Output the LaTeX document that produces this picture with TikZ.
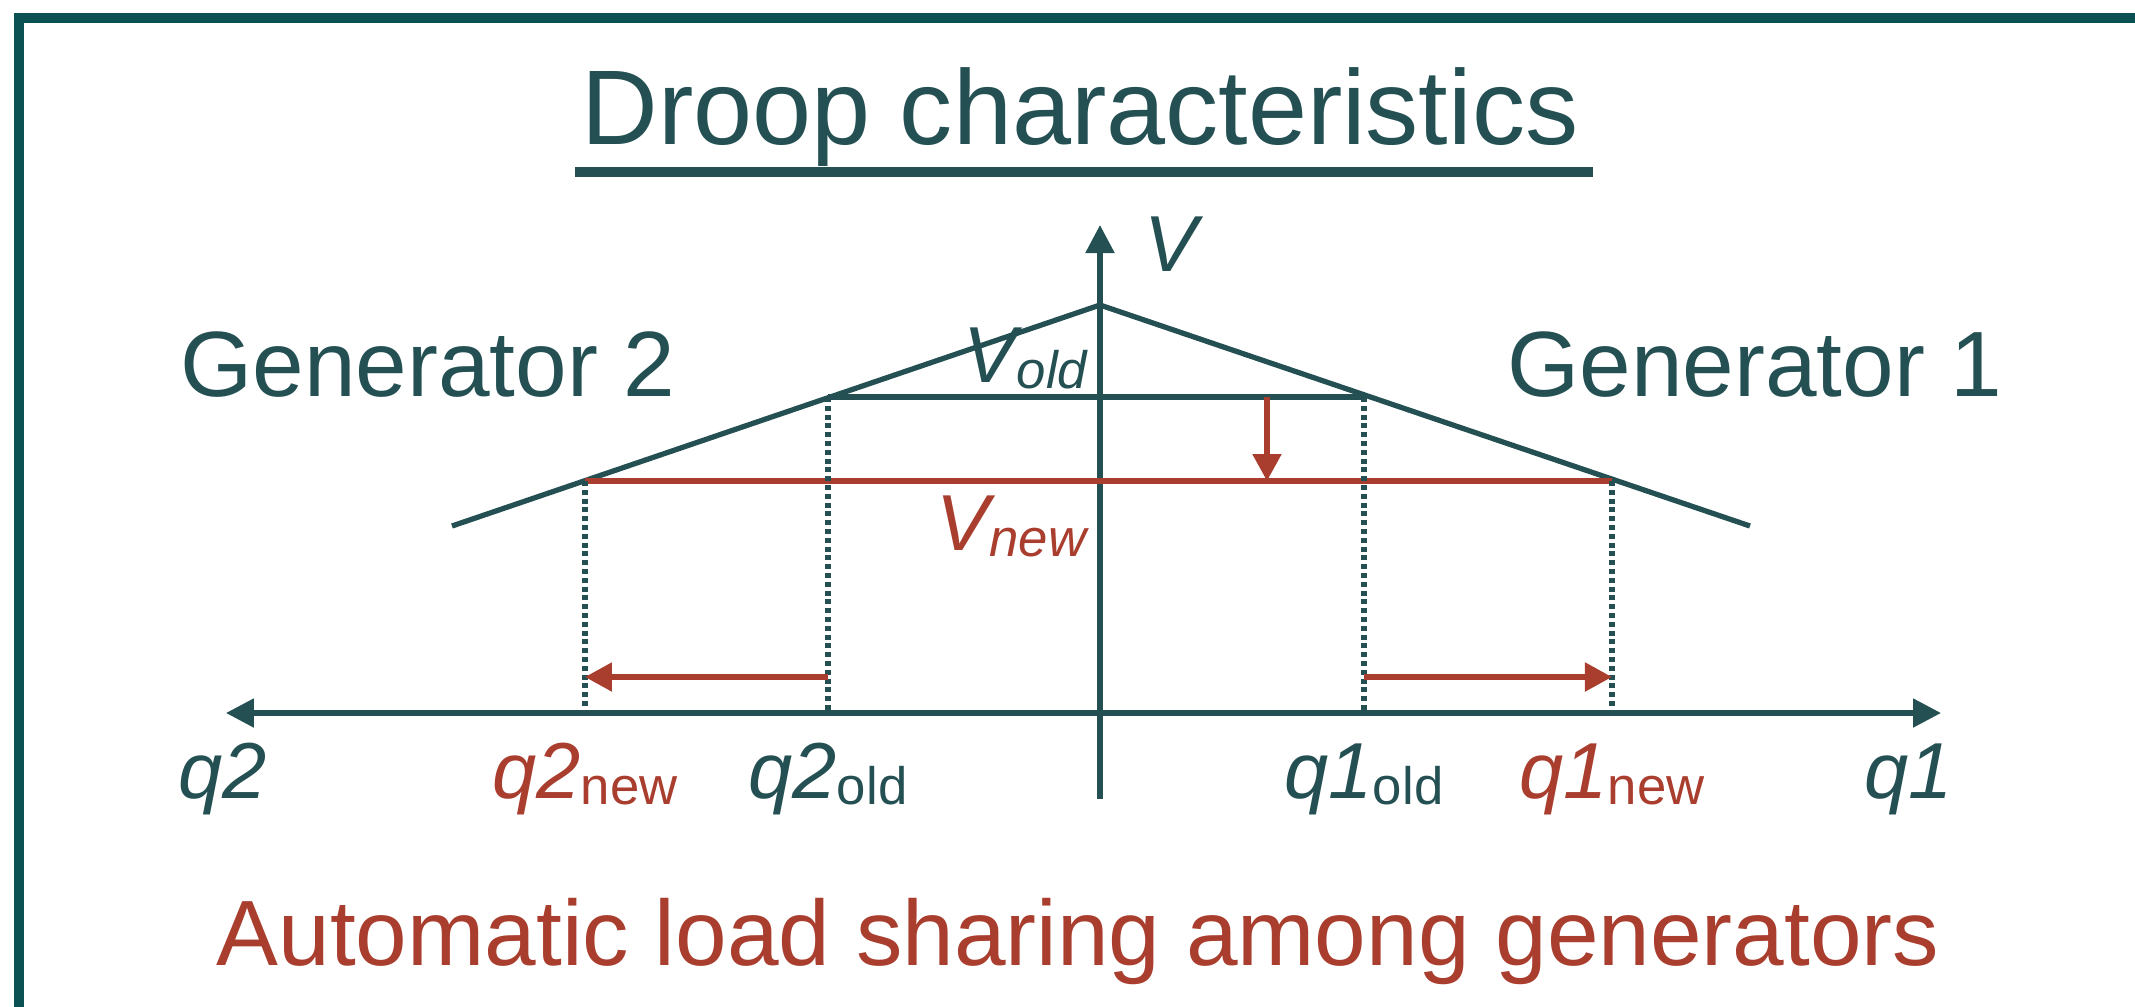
\documentclass[tikz,border=0pt]{standalone}
\usepackage{fontspec}
\setmainfont{Liberation Sans}
\usepackage{tikz}
\usepackage{xcolor}
\usetikzlibrary{arrows.meta, positioning, calc}
\definecolor{cTeal}{RGB}{36,80,83}
\definecolor{cFrame}{RGB}{11,80,83}
\definecolor{cRed}{RGB}{169,61,46}
\tikzset{
	frame/.style    ={line width=1.05mm, cFrame},
	axisline/.style ={line width=1.5pt, cTeal},
	axisarrow/.style={-{Triangle[length=2.8mm, width=2.8mm]}, axisline},
	droop/.style    ={line width=1.5pt, cTeal},
	guide/.style    ={line width=1.5pt, cTeal, dash pattern=on 0.5mm off 0.38mm},
	movearrow/.style={-{Triangle[length=2.7mm, width=2.8mm]}, line width=1.5pt, cRed},
	% text styles
	lbl/.style      ={inner sep=0pt, anchor=base, font=\fontsize{22.6}{24}\selectfont\itshape},
	big/.style      ={inner sep=0pt, anchor=base, font=\fontsize{26.4}{28}\selectfont},
}
\newcommand{\lsub}[1]{{\fontsize{15}{15}\selectfont\raisebox{-0.6mm}{#1}}}

\begin{document}
\begin{tikzpicture}[color=cTeal]
	\useasboundingbox (-11.00,-2.93) rectangle (10.35,7.13);
	% slide frame
	\draw[frame] (-10.81,-3.3) -- (-10.81,6.95) -- (10.8,6.95);
	% title
	\node[anchor=base, inner sep=0pt, font=\fontsize{30.2}{32}\selectfont] (title) at (-0.20,5.69) {Droop characteristics};
	\coordinate (ulL) at (-5.25,5.41);
	\coordinate (ulR) at (4.93,5.41);
	\draw[line width=1mm, cTeal] (ulL) -- (ulR);
	% axes
	\coordinate (O) at (0,0);
	\coordinate (vtop) at (0,4.88);
	\coordinate (vbot) at (0,-0.86);
	\coordinate (qL) at (-8.74,0);
	\coordinate (qR) at (8.41,0);
	\draw[axisarrow] (vbot) -- (vtop);
	\draw[axisline, {Triangle[length=2.8mm, width=2.8mm]}-{Triangle[length=2.8mm, width=2.8mm]}] (qL) -- (qR);
	% droop lines
	\coordinate (peak) at (0,4.08);
	\coordinate (g2) at (-6.48,1.87);
	\coordinate (g1) at (6.50,1.87);
	\draw[droop] (g2) -- (peak) -- (g1);
	% operating points
	\coordinate (old2) at (-2.72,3.16);
	\coordinate (old1) at (2.64,3.16);
	\coordinate (new2) at (-5.15,2.32);
	\coordinate (new1) at (5.12,2.32);
	\draw[droop] (old2) -- (old1);
	\draw[line width=1.5pt, cRed] (new2) -- (new1);
	\foreach \p in {old2,old1,new2,new1}
		\draw[guide] (\p) -- (\p |- O);
	% voltage drop and load shift
	\coordinate (drop) at (1.67,0);
	\draw[movearrow] (drop |- old1) -- (drop |- new1);
	\coordinate (arr) at (0,0.36);
	\draw[movearrow] (old2 |- arr) -- (new2 |- arr);
	\draw[movearrow] (old1 |- arr) -- (new1 |- arr);
	% labels
	\node[lbl] (vlab) at (0.71,4.42) {V};
	\node[lbl, anchor=base east] (vold) at (-0.12,3.31) {V\lsub{old}};
	\node[lbl, anchor=base east, cRed] (vnew) at (-0.13,1.63) {V\lsub{new}};
	\node[big] (gen2) at (-6.72,3.17) {Generator 2};
	\node[big] (gen1) at (6.55,3.17) {Generator 1};
	\coordinate (qrow) at (0,-0.85);
	\node[lbl] (q2) at (-8.77,-0.85) {q2};
	\node[lbl, cRed] (q2new) at (new2 |- qrow) {q2\lsub{\upshape new}};
	\node[lbl] (q2old) at (old2 |- qrow) {q2\lsub{\upshape old}};
	\node[lbl] (q1old) at (old1 |- qrow) {q1\lsub{\upshape old}};
	\node[lbl, cRed] (q1new) at (new1 |- qrow) {q1\lsub{\upshape new}};
	\node[lbl] (q1) at (8.09,-0.85) {q1};
	\node[big, cRed] (share) at (-0.22,-2.52) {Automatic load sharing among generators};
\end{tikzpicture}
\end{document}
